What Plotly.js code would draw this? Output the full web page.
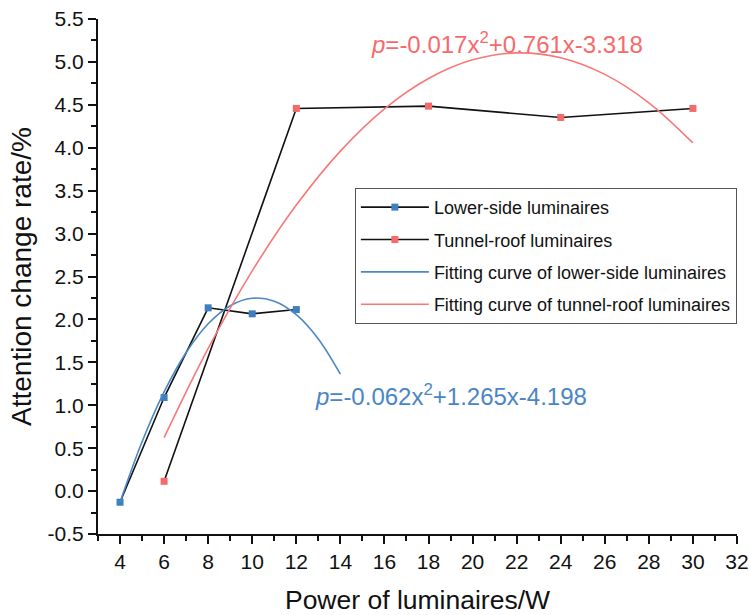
<!DOCTYPE html>
<html>
<head>
<meta charset="utf-8">
<script src="https://cdn.plot.ly/plotly-3.0.1.min.js"></script>
<style>html,body{margin:0;padding:0;background:#fff;}#chart{width:749px;height:615px;}</style>
</head>
<body>
<div id="chart"></div>
<script>
// Measured points
const lowerX = [4, 6, 8, 10, 12];
const lowerY = [-0.13, 1.09, 2.135, 2.065, 2.115];
const roofX = [6, 12, 18, 24, 30];
const roofY = [0.114, 4.458, 4.485, 4.353, 4.458];
// Fitting curves
const lowerFitX = [4, 5, 6, 7, 8, 9, 10, 11, 12, 13, 14];
const lowerFitY = [-0.13, 0.574, 1.155, 1.614, 1.949, 2.16, 2.246, 2.213, 2.055, 1.772, 1.362];
const roofFitX = [6, 8, 10, 12, 14, 16, 18, 20, 22, 24, 26, 28, 30];
const roofFitY = [0.623, 1.663, 2.566, 3.332, 3.961, 4.453, 4.807, 5.025, 5.105, 5.049, 4.855, 4.524, 4.056];
const seriesNames = ["Lower-side luminaires", "Tunnel-roof luminaires",
  "Fitting curve of lower-side luminaires", "Fitting curve of tunnel-roof luminaires"];
const lowerEq = "<i>p</i>=-0.062x<sup>2</sup>+1.265x-4.198";
const roofEq = "<i>p</i>=-0.017x<sup>2</sup>+0.761x-3.318";
const xTicks = [4, 6, 8, 10, 12, 14, 16, 18, 20, 22, 24, 26, 28, 30, 32];
const yTicks = [-0.5, 0.0, 0.5, 1.0, 1.5, 2.0, 2.5, 3.0, 3.5, 4.0, 4.5, 5.0, 5.5];

const BLUE = "#3f7fc0";
const RED = "#f76a6a";
const FONT = "Arial, 'Liberation Sans', sans-serif";

const traces = [
  {x: lowerX, y: lowerY, name: seriesNames[0], legendgroup: "a", type: "scatter", mode: "lines+markers",
   line: {color: "#111", width: 1.6}, marker: {symbol: "square", size: 7, color: BLUE}},
  {x: roofX, y: roofY, name: seriesNames[1], legendgroup: "b", type: "scatter", mode: "lines+markers",
   line: {color: "#111", width: 1.6}, marker: {symbol: "square", size: 7, color: RED}},
  {x: lowerFitX, y: lowerFitY, name: seriesNames[2], legendgroup: "c", type: "scatter", mode: "lines",
   line: {color: "#4a88c8", width: 1.6, shape: "spline"}},
  {x: roofFitX, y: roofFitY, name: seriesNames[3], legendgroup: "d", type: "scatter", mode: "lines",
   line: {color: "#f87878", width: 1.6, shape: "spline"}}
];

const layout = {
  width: 749, height: 615,
  margin: {l: 98, r: 12, t: 19, b: 81},
  paper_bgcolor: "#fff", plot_bgcolor: "#fff",
  font: {family: FONT, color: "#111", size: 18},
  showlegend: true,
  legend: {x: 0.402, y: 0.672, xanchor: "left", yanchor: "top",
    bgcolor: "#fff", bordercolor: "#555", borderwidth: 1,
    itemwidth: 68, tracegroupgap: 6,
    font: {family: FONT, size: 18, color: "#111"}},
  xaxis: {range: [3, 32], tickvals: xTicks, ticktext: xTicks.map(String), automargin: false,
    showgrid: false, zeroline: false, showline: true, linecolor: "#111", linewidth: 2,
    ticks: "outside", ticklen: 8, tickwidth: 2, tickcolor: "#111",
    minor: {dtick: 1, tick0: 3, ticks: "outside", ticklen: 5, tickwidth: 2, tickcolor: "#111", showgrid: false},
    tickfont: {family: FONT, size: 21, color: "#111"},
    title: {text: "Power of luminaires/W", font: {family: FONT, size: 26.5, color: "#111"}}},
  yaxis: {range: [-0.5, 5.5], tickvals: yTicks, ticktext: yTicks.map(v => v.toFixed(1)), automargin: false,
    showgrid: false, zeroline: false, showline: true, linecolor: "#111", linewidth: 2,
    ticks: "outside", ticklen: 8, tickwidth: 2, tickcolor: "#111",
    minor: {dtick: 0.25, tick0: -0.5, ticks: "outside", ticklen: 5, tickwidth: 2, tickcolor: "#111", showgrid: false},
    tickfont: {family: FONT, size: 21, color: "#111"},
    title: {text: "Attention change rate/%", font: {family: FONT, size: 28, color: "#111"}}},
  annotations: [
    {x: 21.57, y: 5.22, xref: "x", yref: "y", text: roofEq, showarrow: false,
     font: {family: FONT, size: 24, color: RED}},
    {x: 19.02, y: 1.12, xref: "x", yref: "y", text: lowerEq, showarrow: false,
     font: {family: FONT, size: 24, color: "#4a86c5"}}
  ]
};

Plotly.newPlot("chart", traces, layout, {displayModeBar: false, staticPlot: true});
</script>
</body>
</html>
